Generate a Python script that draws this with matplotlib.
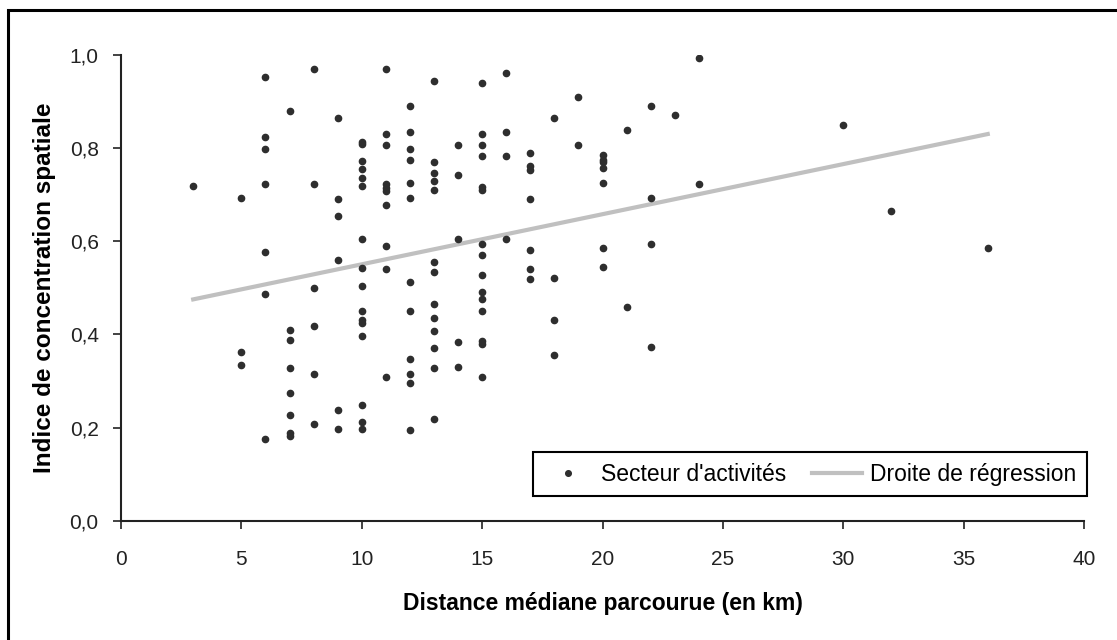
import matplotlib
matplotlib.use("Agg")
import matplotlib.pyplot as plt
from matplotlib.patches import Rectangle
from matplotlib.ticker import FuncFormatter

# distance médiane (km) et indice de concentration spatiale
dist_km = [3,
           5, 5, 5,
           6, 6, 6, 6, 6, 6, 6,
           7, 7, 7, 7, 7, 7, 7, 7,
           8, 8, 8, 8, 8, 8,
           9, 9, 9, 9, 9, 9,
           10, 10, 10, 10, 10, 10, 10, 10, 10, 10, 10, 10, 10, 10, 10, 10,
           11, 11, 11, 11, 11, 11, 11, 11, 11, 11,
           12, 12, 12, 12, 12, 12, 12, 12, 12, 12, 12, 12,
           13, 13, 13, 13, 13, 13, 13, 13, 13, 13, 13, 13, 13,
           14, 14, 14, 14, 14,
           15, 15, 15, 15, 15, 15, 15, 15, 15, 15, 15, 15, 15, 15, 15,
           16, 16, 16, 16,
           17, 17, 17, 17, 17, 17, 17,
           18, 18, 18, 18,
           19, 19,
           20, 20, 20, 20, 20, 20, 20,
           21, 21,
           22, 22, 22, 22,
           23,
           24, 24,
           30, 32, 36]
indice = [0.718,
          0.694, 0.363, 0.334,
          0.952, 0.823, 0.798, 0.723, 0.578, 0.486, 0.175,
          0.879, 0.410, 0.388, 0.328, 0.274, 0.228, 0.189, 0.182,
          0.970, 0.723, 0.499, 0.419, 0.316, 0.207,
          0.864, 0.690, 0.654, 0.559, 0.237, 0.198,
          0.814, 0.810, 0.773, 0.755, 0.737, 0.718, 0.604, 0.542, 0.503, 0.450, 0.430, 0.424, 0.396, 0.248, 0.212, 0.198,
          0.970, 0.830, 0.806, 0.722, 0.715, 0.708, 0.678, 0.590, 0.541, 0.309,
          0.890, 0.834, 0.799, 0.774, 0.726, 0.694, 0.513, 0.450, 0.347, 0.316, 0.295, 0.195,
          0.944, 0.771, 0.746, 0.729, 0.711, 0.555, 0.535, 0.465, 0.435, 0.407, 0.371, 0.327, 0.219,
          0.806, 0.742, 0.604, 0.384, 0.330,
          0.940, 0.830, 0.806, 0.784, 0.716, 0.710, 0.595, 0.570, 0.527, 0.491, 0.476, 0.450, 0.386, 0.380, 0.309,
          0.962, 0.834, 0.784, 0.606,
          0.789, 0.762, 0.753, 0.690, 0.582, 0.541, 0.518,
          0.864, 0.522, 0.432, 0.355,
          0.910, 0.806,
          0.785, 0.775, 0.771, 0.758, 0.726, 0.586, 0.544,
          0.838, 0.458,
          0.890, 0.694, 0.594, 0.374,
          0.872,
          0.994, 0.723,
          0.850, 0.666, 0.586]

# droite de régression
reg_pente = 0.01076
reg_origine = 0.443

x_ticks = [0, 5, 10, 15, 20, 25, 30, 35, 40]
y_ticks = [0.0, 0.2, 0.4, 0.6, 0.8, 1.0]

plt.rcParams['font.family'] = ['Liberation Sans', 'DejaVu Sans']

fig = plt.figure(figsize=(11.17, 6.4), dpi=100)
ax = fig.add_axes([0.1083, 0.1864, 0.8622, 0.7276])

# cadre extérieur
fig.patches.append(Rectangle((8 / 1117, -0.05), 1.2, 1 - 10 / 640 + 0.05,
                             transform=fig.transFigure, fill=False,
                             edgecolor='black', linewidth=2.2))

x_min, x_max = min(dist_km), max(dist_km)
ax.plot([x_min, x_max], [reg_origine + reg_pente * x_min, reg_origine + reg_pente * x_max],
        color='#c0c0c0', linewidth=3, label='Droite de régression', zorder=2)
ax.plot(dist_km, indice, linestyle='none', marker='o', markersize=4.5,
        color='#2e2e2e', label="Secteur d'activités", zorder=3)

ax.set_xlim(0, 40)
ax.set_ylim(0, 1)
ax.set_xticks(x_ticks)
ax.set_yticks(y_ticks)
ax.yaxis.set_major_formatter(FuncFormatter(lambda v, p: f"{v:.1f}".replace('.', ',')))

for s in ['top', 'right']:
    ax.spines[s].set_visible(False)
for s in ['left', 'bottom']:
    ax.spines[s].set_linewidth(1.5)
    ax.spines[s].set_color('#222222')

ax.tick_params(axis='both', direction='out', length=6, width=1.2, color='#222222',
               labelsize=15, labelcolor='#222222')
ax.tick_params(axis='x', pad=15)
ax.tick_params(axis='y', pad=10)

ax.set_xlabel('Distance médiane parcourue (en km)', fontsize=16.5, fontweight='bold', labelpad=17)
ax.set_ylabel('Indice de concentration spatiale', fontsize=17.5, fontweight='bold', labelpad=10)

handles, labels = ax.get_legend_handles_labels()
leg = ax.legend(handles[::-1], labels[::-1], ncol=2, loc='lower right',
                bbox_to_anchor=(1.003, 0.053), borderaxespad=0, fontsize=16.5, frameon=True,
                fancybox=False, framealpha=1, edgecolor='black',
                handlelength=2.2, handletextpad=0.35, columnspacing=1.1,
                borderpad=0.45, markerscale=0.9)
leg.get_frame().set_linewidth(1.5)

fig.savefig('out.png', dpi=100)
